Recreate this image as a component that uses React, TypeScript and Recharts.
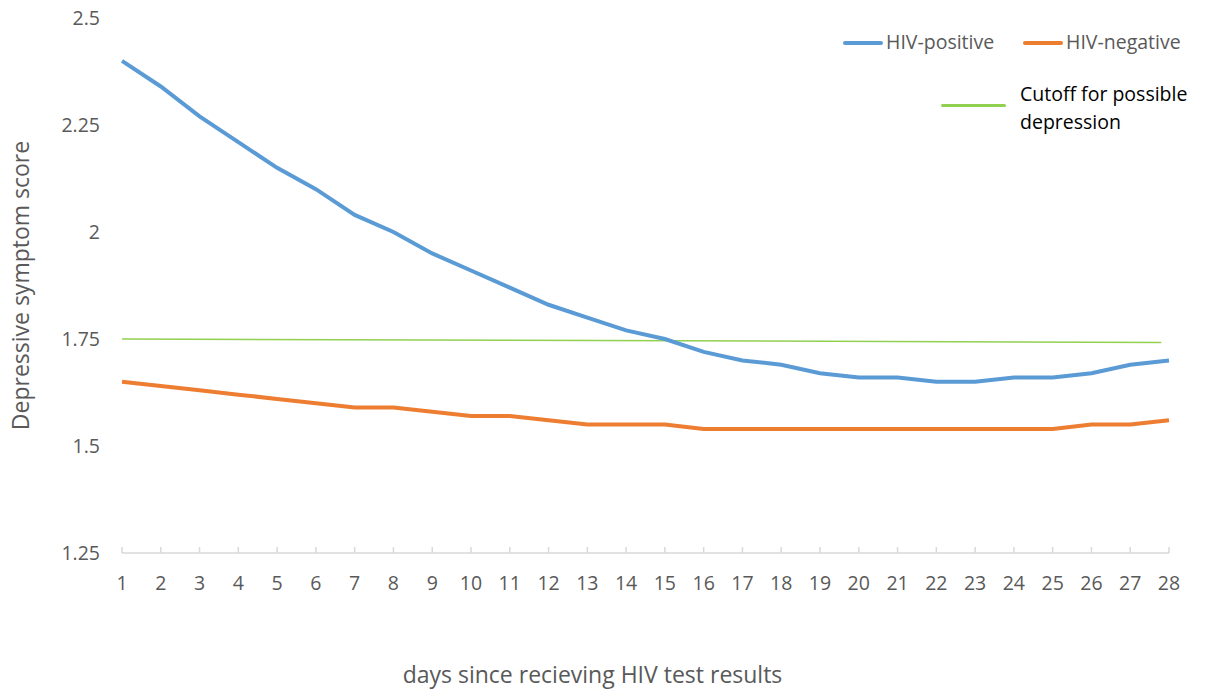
import { LineChart, Line, XAxis, YAxis } from "recharts";

const days = [1, 2, 3, 4, 5, 6, 7, 8, 9, 10, 11, 12, 13, 14, 15, 16, 17, 18, 19, 20, 21, 22, 23, 24, 25, 26, 27, 28];
const hivPositive = [2.4, 2.34, 2.27, 2.21, 2.15, 2.1, 2.04, 2.0, 1.95, 1.91, 1.87, 1.83, 1.8, 1.77, 1.75, 1.72, 1.7, 1.69, 1.67, 1.66, 1.66, 1.65, 1.65, 1.66, 1.66, 1.67, 1.69, 1.7];
const hivNegative = [1.65, 1.64, 1.63, 1.62, 1.61, 1.6, 1.59, 1.59, 1.58, 1.57, 1.57, 1.56, 1.55, 1.55, 1.55, 1.54, 1.54, 1.54, 1.54, 1.54, 1.54, 1.54, 1.54, 1.54, 1.54, 1.55, 1.55, 1.56];
const cutoffDays = [1, 27.8];
const cutoffValues = [1.75, 1.742];
const yTicks = [1.25, 1.5, 1.75, 2, 2.25, 2.5];

const data = days.map((day, i) => ({
  day,
  positive: hivPositive[i],
  negative: hivNegative[i],
}));
const cutoffData = cutoffDays.map((day, i) => ({ day, cutoff: cutoffValues[i] }));

const FONT = "'Open Sans', sans-serif";
const GREY = "#595959";

const legendText = { position: "absolute" as const, fontSize: 19.5, color: GREY, lineHeight: "22px", whiteSpace: "nowrap" as const };
const swatch = (left: number, top: number, width: number, color: string, h = 4) => (
  <div style={{ position: "absolute", left, top: top - h / 2, width, height: h, background: color, borderRadius: 2 }} />
);

export default function App() {
  return (
    <div style={{ position: "absolute", left: 0, top: 0, width: 1207, height: 694, background: "#fff", fontFamily: FONT }}>
      <LineChart
        width={1207}
        height={694}
        data={data}
        margin={{ top: 18, right: 38, left: 0, bottom: 81 }}
        style={{ fontFamily: FONT }}
      >
        <XAxis
          dataKey="day"
          type="number"
          domain={[1, 28]}
          ticks={days}
          interval={0}
          height={60}
          tickSize={-6}
          tickMargin={29}
          axisLine={{ stroke: "#d9d9d9", strokeWidth: 1.5 }}
          tickLine={{ stroke: "#d9d9d9", strokeWidth: 1.5 }}
          tick={{ fill: GREY, fontSize: 19.5 }}
          label={{
            content: (props: any) => {
              const vb = props.viewBox;
              return (
                <text x={vb.x + vb.width / 2 - 53} y={683} textAnchor="middle" fill={GREY} fontSize={23}>
                  days since recieving HIV test results
                </text>
              );
            },
          }}
        />
        <YAxis
          type="number"
          domain={[1.25, 2.5]}
          ticks={yTicks}
          interval={0}
          width={122}
          axisLine={false}
          tickLine={false}
          tickSize={0}
          tickMargin={22}
          tick={{ fill: GREY, fontSize: 19.5 }}
          label={{
            content: (props: any) => {
              const vb = props.viewBox;
              const cy = vb.y + vb.height / 2;
              return (
                <text
                  x={29}
                  y={cy}
                  transform={`rotate(-90, 29, ${cy})`}
                  textAnchor="middle"
                  fill={GREY}
                  fontSize={23}
                >
                  Depressive symptom score
                </text>
              );
            },
          }}
        />
        <Line
          data={cutoffData}
          dataKey="cutoff"
          stroke="#92D050"
          strokeWidth={1.5}
          dot={false}
          isAnimationActive={false}
        />
        <Line
          dataKey="negative"
          stroke="#ED7D31"
          strokeWidth={4}
          dot={false}
          isAnimationActive={false}
        />
        <Line
          dataKey="positive"
          stroke="#5B9BD5"
          strokeWidth={4}
          dot={false}
          isAnimationActive={false}
        />
      </LineChart>
      {swatch(843, 43, 40, "#5B9BD5")}
      <div style={{ ...legendText, left: 886, top: 31 }}>HIV-positive</div>
      {swatch(1023, 43, 40, "#ED7D31")}
      <div style={{ ...legendText, left: 1066, top: 31 }}>HIV-negative</div>
      {swatch(941, 105, 65, "#92D050", 3)}
      <div style={{ ...legendText, left: 1020, top: 80, color: "#000", lineHeight: "28px" }}>
        Cutoff for possible
        <br />
        depression
      </div>
    </div>
  );
}
